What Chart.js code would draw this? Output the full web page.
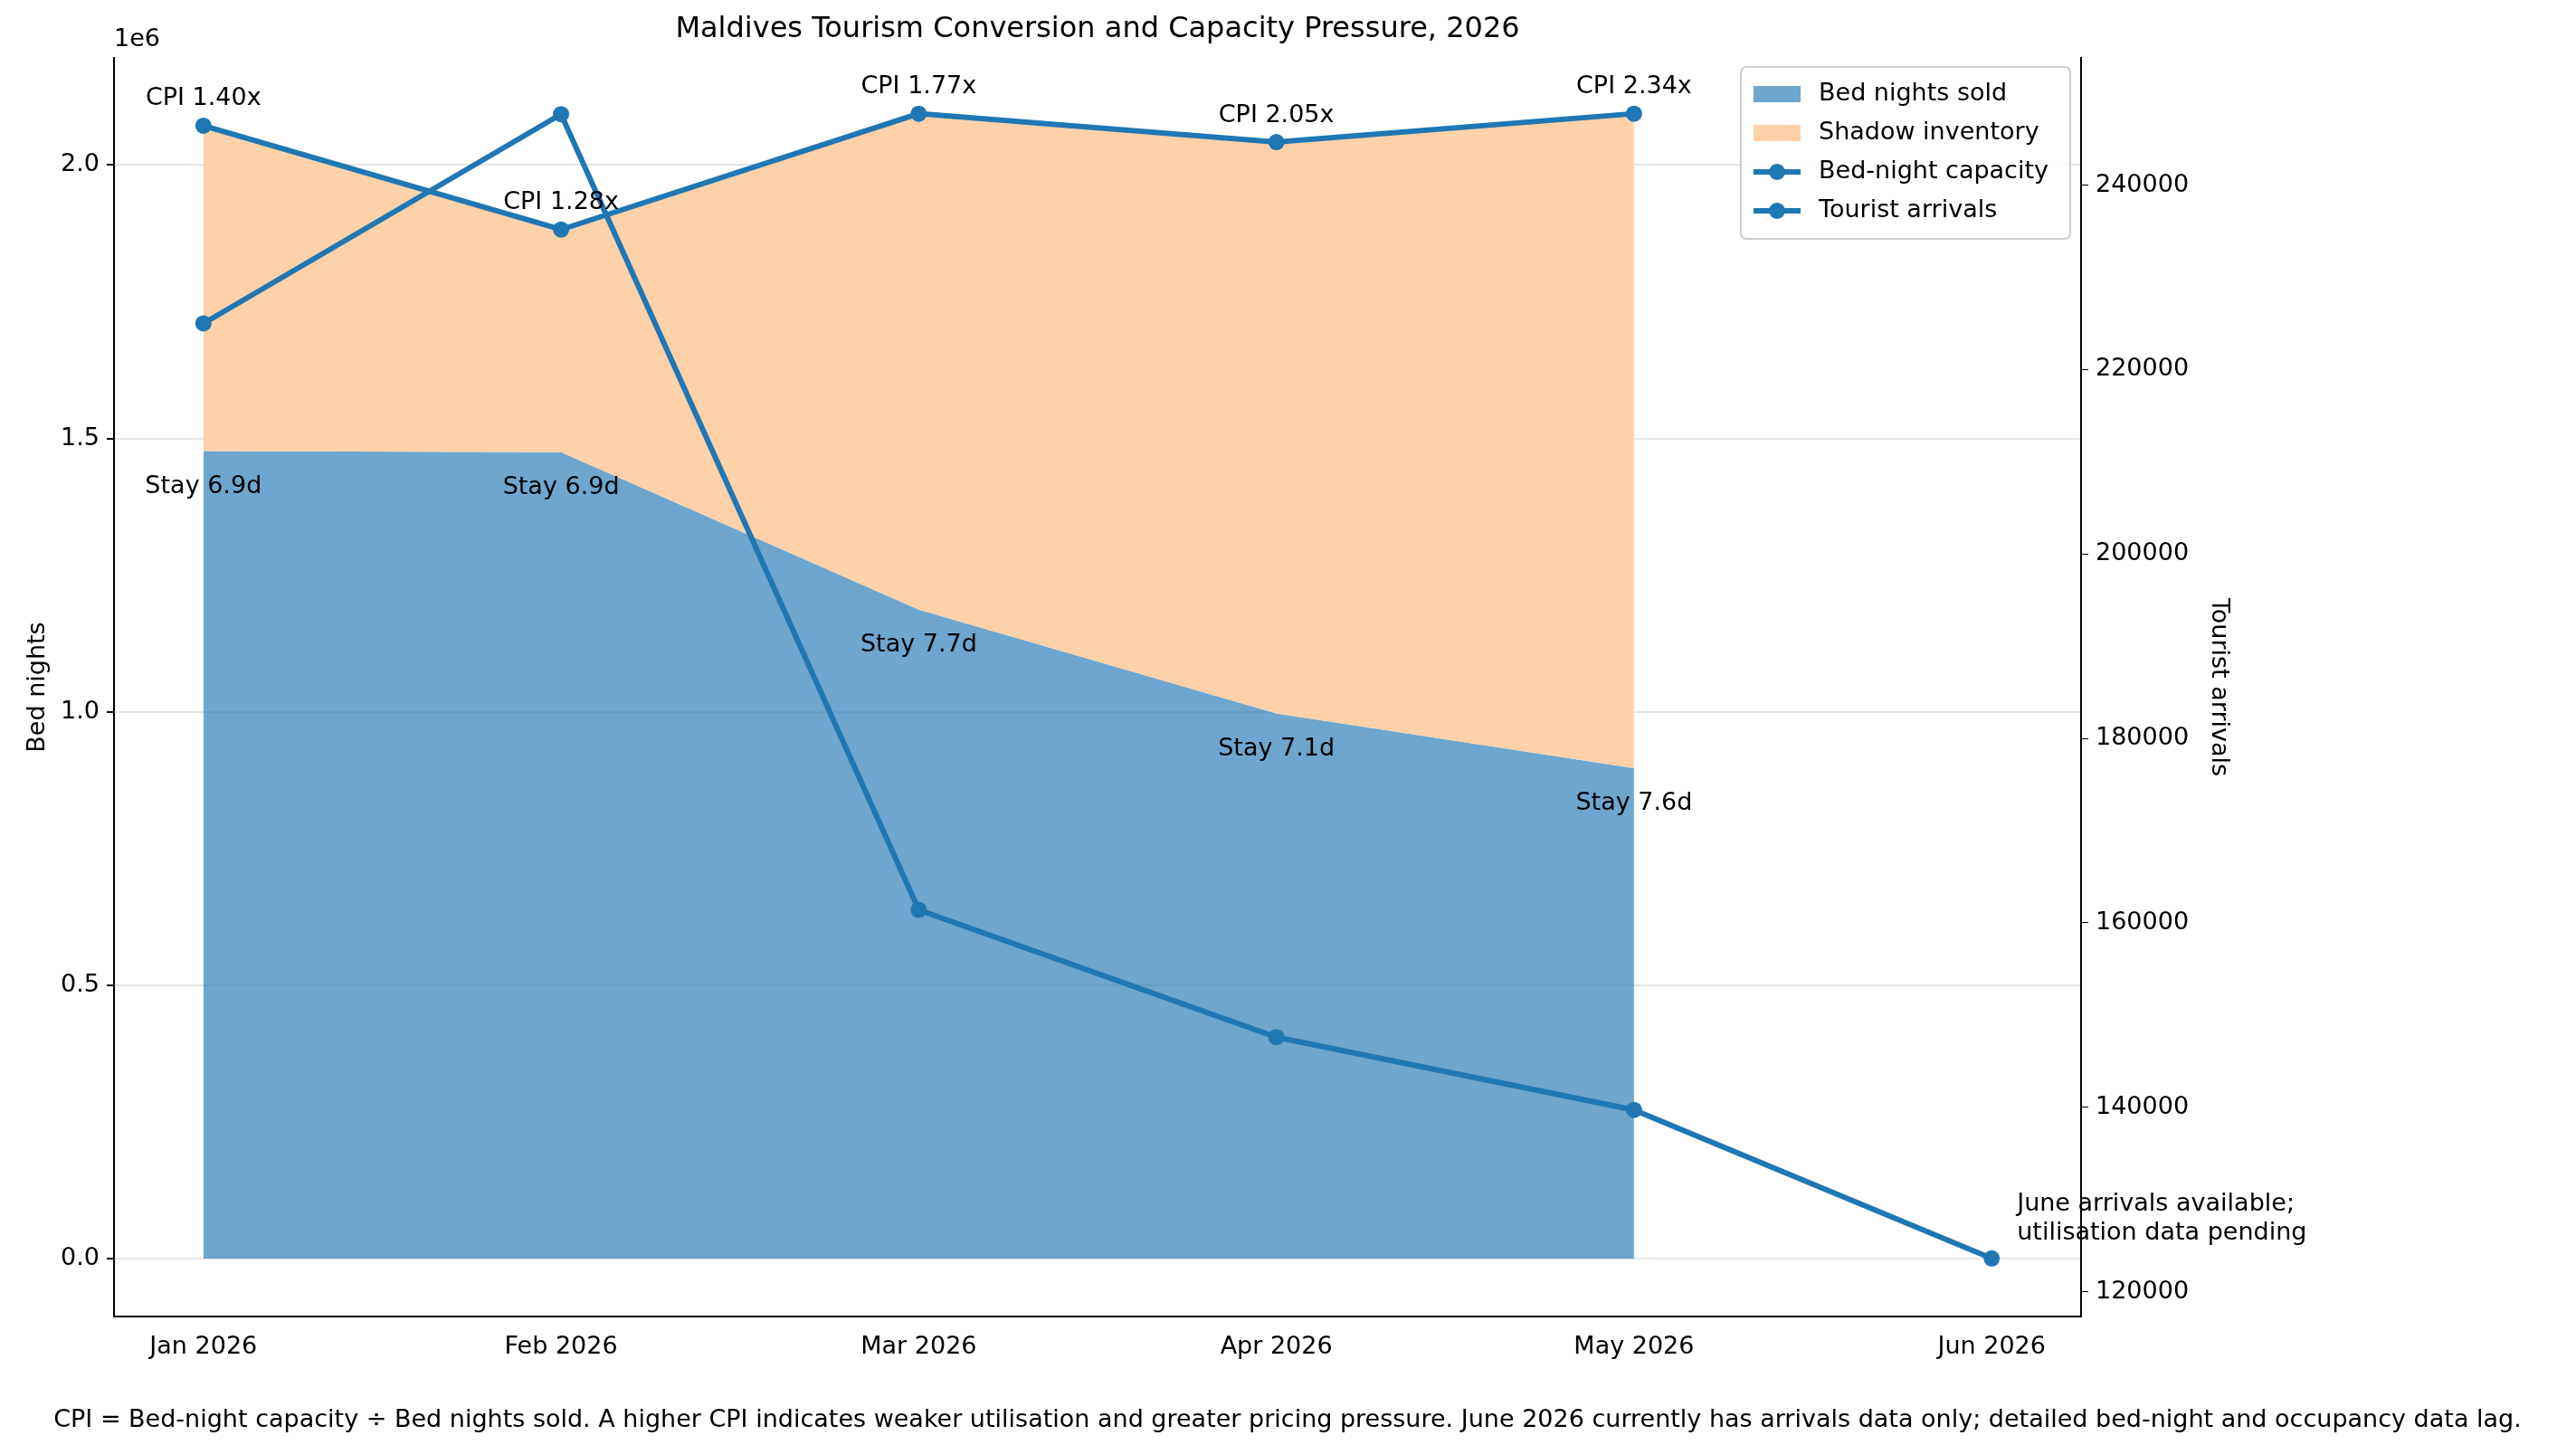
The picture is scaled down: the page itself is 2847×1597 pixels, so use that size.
<!DOCTYPE html>
<html><head><meta charset="utf-8">
<script src="https://cdn.jsdelivr.net/npm/chart.js@4"></script>
<style>body{margin:0;background:#fff}canvas{display:block}</style>
</head><body>
<canvas id="c" width="2847" height="1597"></canvas>
<script>
const months = ['Jan 2026', 'Feb 2026', 'Mar 2026', 'Apr 2026', 'May 2026', 'Jun 2026'];
const bedNightsSold = [1477000, 1475000, 1187000, 997000, 897000];
const bedNightCapacity = [2072000, 1882000, 2094000, 2042000, 2094000];
const touristArrivals = [225000, 247700, 161400, 147600, 139700, 123600];
const cpiLabels = ['CPI 1.40x', 'CPI 1.28x', 'CPI 1.77x', 'CPI 2.05x', 'CPI 2.34x'];
const stayLabels = ['Stay 6.9d', 'Stay 6.9d', 'Stay 7.7d', 'Stay 7.1d', 'Stay 7.6d'];

const BLUE = '#1f77b4';
const FONT = 'DejaVu Sans';
const FS = 27;
const xy = arr => arr.map((v, i) => ({ x: i, y: v }));

const extras = {
    id: 'extras',
    afterDraw(chart) {
        const ctx = chart.ctx;
        const xs = chart.scales.x, yl = chart.scales.y, yr = chart.scales.y2;
        const a = chart.chartArea;
        ctx.save();
        ctx.fillStyle = '#000';
        ctx.font = `32px ${FONT}`;
        ctx.textAlign = 'center';
        ctx.textBaseline = 'middle';
        ctx.fillText('Maldives Tourism Conversion and Capacity Pressure, 2026', (a.left + a.right) / 2, 33);
        ctx.font = `${FS}px ${FONT}`;
        ctx.textAlign = 'left';
        ctx.fillText('1e6', a.left, 44);
        ctx.textAlign = 'center';
        ctx.textBaseline = 'bottom';
        cpiLabels.forEach((t, i) => ctx.fillText(t, xs.getPixelForValue(i), yl.getPixelForValue(bedNightCapacity[i]) - 16));
        ctx.textBaseline = 'top';
        stayLabels.forEach((t, i) => ctx.fillText(t, xs.getPixelForValue(i), yl.getPixelForValue(bedNightsSold[i]) + 26));
        ctx.textAlign = 'left';
        ctx.textBaseline = 'bottom';
        const jx = xs.getPixelForValue(5) + 28, jy = yr.getPixelForValue(touristArrivals[5]);
        ctx.fillText('June arrivals available;', jx, jy - 46);
        ctx.fillText('utilisation data pending', jx, jy - 14);
        ctx.textAlign = 'center';
        ctx.textBaseline = 'middle';
        ctx.fillText('CPI = Bed-night capacity ÷ Bed nights sold. A higher CPI indicates weaker utilisation and greater pricing pressure. June 2026 currently has arrivals data only; detailed bed-night and occupancy data lag.', 1423, 1570);
        // legend
        const lw = 364, lh = 190;
        const lx = a.right - lw - 12, ly = a.top + 10;
        ctx.fillStyle = 'rgba(255,255,255,0.85)';
        ctx.strokeStyle = '#ccc';
        ctx.lineWidth = 2;
        ctx.beginPath(); ctx.roundRect(lx, ly, lw, lh, 6); ctx.fill(); ctx.stroke();
        const items = [['box', 'rgba(31,119,180,0.65)', 'Bed nights sold'], ['box', '#ffd1a9', 'Shadow inventory'],
                       ['line', BLUE, 'Bed-night capacity'], ['line', BLUE, 'Tourist arrivals']];
        ctx.textAlign = 'left';
        ctx.textBaseline = 'middle';
        items.forEach((it, k) => {
            const cy = ly + 30 + k * 43;
            if (it[0] === 'box') { ctx.fillStyle = it[1]; ctx.fillRect(lx + 14, cy - 9, 52, 18); }
            else {
                ctx.strokeStyle = it[1]; ctx.lineWidth = 6;
                ctx.beginPath(); ctx.moveTo(lx + 14, cy); ctx.lineTo(lx + 66, cy); ctx.stroke();
                ctx.fillStyle = it[1]; ctx.beginPath(); ctx.arc(lx + 40, cy, 9, 0, Math.PI * 2); ctx.fill();
            }
            ctx.fillStyle = '#000';
            ctx.fillText(it[2], lx + 86, cy);
        });
        ctx.restore();
    }
};

new Chart(document.getElementById('c'), {
    type: 'line',
    data: {
        datasets: [
            { data: xy(bedNightsSold), yAxisID: 'y', fill: 'origin', backgroundColor: 'rgba(31,119,180,0.65)', borderWidth: 0, pointRadius: 0, tension: 0, order: 4 },
            { data: xy(bedNightCapacity), yAxisID: 'y', fill: '-1', backgroundColor: '#ffd1a9', borderWidth: 0, pointRadius: 0, tension: 0, order: 3 },
            { data: xy(bedNightCapacity), yAxisID: 'y', fill: false, borderColor: BLUE, borderWidth: 6, pointRadius: 9, pointBackgroundColor: BLUE, pointBorderWidth: 0, order: 2 },
            { data: xy(touristArrivals), yAxisID: 'y2', fill: false, borderColor: BLUE, borderWidth: 6, pointRadius: 9, pointBackgroundColor: BLUE, pointBorderWidth: 0, order: 1 }
        ]
    },
    options: {
        responsive: false, devicePixelRatio: 1, animation: false,
        layout: { padding: { top: 64, right: 375, bottom: 72, left: 22 } },
        plugins: { legend: { display: false }, tooltip: { enabled: false } },
        scales: {
            x: {
                type: 'linear', min: -0.25, max: 5.25,
                afterBuildTicks: s => { s.ticks = months.map((m, i) => ({ value: i })); },
                afterFit: s => { s.height = 70; },
                ticks: { callback: v => months[v], color: '#000', font: { family: FONT, size: FS }, padding: 10, maxRotation: 0 },
                grid: { display: false, drawTicks: true, tickLength: 8 },
                border: { color: '#000', width: 2 }
            },
            y: {
                position: 'left', min: -106000, max: 2196000,
                afterBuildTicks: s => { s.ticks = [0, 500000, 1000000, 1500000, 2000000].map(v => ({ value: v })); },
                afterFit: s => { s.width = 104; },
                ticks: { callback: v => (v / 1e6).toFixed(1), color: '#000', font: { family: FONT, size: FS }, padding: 8 },
                grid: { color: 'rgba(0,0,0,0.1)', lineWidth: 2, tickLength: 8, tickColor: '#000' },
                border: { color: '#000', width: 2 },
                title: { display: true, text: 'Bed nights', color: '#000', font: { family: FONT, size: FS } }
            },
            y2: {
                position: 'right', min: 117300, max: 253800,
                afterBuildTicks: s => { s.ticks = [120000, 140000, 160000, 180000, 200000, 220000, 240000].map(v => ({ value: v })); },
                afterFit: s => { s.width = 172; },
                ticks: { callback: v => String(v), color: '#000', font: { family: FONT, size: FS }, padding: 8 },
                grid: { drawOnChartArea: false, tickLength: 8, tickColor: '#000' },
                border: { color: '#000', width: 2 },
                title: { display: true, text: 'Tourist arrivals', color: '#000', font: { family: FONT, size: FS } }
            }
        }
    },
    plugins: [extras]
});
</script>
</body></html>
